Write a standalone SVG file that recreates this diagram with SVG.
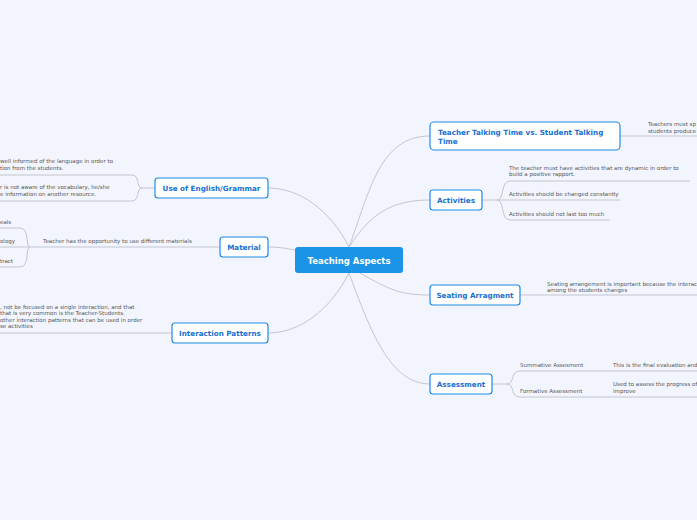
<svg xmlns="http://www.w3.org/2000/svg" width="697" height="520" viewBox="0 0 697 520">
<style>
.n rect{fill:#fff;stroke:#1f8ce6;stroke-width:1.2}
.n text{font-family:"DejaVu Sans",sans-serif;font-weight:bold;font-size:7.2px;fill:#1770d0}
.t{font-family:"DejaVu Sans",sans-serif;font-size:5.5px;fill:#555}
.c path{fill:none;stroke:#c4c6cf;stroke-width:1}
</style>
<rect width="697" height="520" fill="#f2f5fd"/>
<g class="c">
<path d="M349 247 C370 190,380 136,430 136"/>
<path d="M349 247 C370 215,390 200,430 200"/>
<path d="M360 273 C390 290,400 295,430 295"/>
<path d="M349 273 C370 330,390 384,430 384"/>
<path d="M349 247 C330 210,300 188,268 188"/>
<path d="M295 250 C285 248,278 247,268 247"/>
<path d="M349 273 C330 310,300 333,268 333"/>
<path d="M620 136 L697 136"/>
<path d="M482 200 L497 200 C505 200,500 181,510 181 L690 181"/>
<path d="M497 200 L620 200"/>
<path d="M497 200 C505 200,500 220,510 220 L610 220"/>
<path d="M520 295 L697 295"/>
<path d="M492 384 L507 384 C515 384,510 371,520 371 L697 371"/>
<path d="M507 384 C515 384,510 397,520 397 L697 397"/>
<path d="M155 188 L142 188 C136 188,140 175,132 175 L0 175"/>
<path d="M142 188 C136 188,140 201,132 201 L0 201"/>
<path d="M220 247 L30 247"/>
<path d="M30 247 C25 247,30 228,20 228 L0 228"/>
<path d="M30 247 L0 247"/>
<path d="M30 247 C25 247,30 267,20 267 L0 267"/>
<path d="M172 333 L0 333"/>
</g>
<g id="center"><rect x="295" y="247" width="108" height="26" rx="3" fill="#1b93e6"/><text x="349" y="263.5" text-anchor="middle" font-family="DejaVu Sans,sans-serif" font-weight="bold" font-size="8.5" fill="#fff">Teaching Aspects</text></g>
<g id="ttt" class="n"><rect x="430" y="122" width="190" height="28" rx="4"/><text x="438" y="134.5">Teacher Talking Time vs. Student Talking</text><text x="438" y="144">Time</text></g>
<g id="activities" class="n"><rect x="430" y="190" width="52" height="20" rx="3"/><text x="456" y="202.5" text-anchor="middle">Activities</text></g>
<g id="seating" class="n"><rect x="430" y="285" width="90" height="20" rx="3"/><text x="475" y="297.5" text-anchor="middle">Seating Arragment</text></g>
<g id="assessment" class="n"><rect x="430" y="374" width="62" height="20" rx="3"/><text x="461" y="386.5" text-anchor="middle">Assessment</text></g>
<g id="english" class="n"><rect x="155" y="178" width="113" height="20" rx="3"/><text x="211.5" y="190.5" text-anchor="middle">Use of English/Grammar</text></g>
<g id="material" class="n"><rect x="220" y="237" width="48" height="20" rx="3"/><text x="244" y="249.5" text-anchor="middle">Material</text></g>
<g id="interaction" class="n"><rect x="172" y="323" width="96" height="20" rx="3"/><text x="220" y="335.5" text-anchor="middle">Interaction Patterns</text></g>
<g id="texts">
<text class="t" x="648" y="126">Teachers must sp</text><text class="t" x="648" y="132.5">students produce</text>
<text class="t" x="509" y="169.5">The teacher must have activities that are dynamic in order to</text><text class="t" x="509" y="176">build a positive rapport.</text>
<text class="t" x="509" y="195.5">Activities should be changed constantly</text>
<text class="t" x="509" y="215.5">Activities should not last too much</text>
<text class="t" x="547" y="285.5">Seating arrangement is important because the interac</text><text class="t" x="547" y="292">among the students changes</text>
<text class="t" x="520" y="366.5">Summative Assesment</text>
<text class="t" x="613" y="366.5">This is the final evaluation and</text>
<text class="t" x="520" y="392.5">Formative Assessment</text>
<text class="t" x="613" y="386">Used to assess the progress of</text><text class="t" x="613" y="392.5">improve</text>
<text class="t" x="0" y="163">well informed of the language in order to</text><text class="t" x="0" y="169.5">tion from the students.</text>
<text class="t" x="0" y="189">r is not aware of the vocabulary, he/she</text><text class="t" x="0" y="195.5">e information on another resource.</text>
<text class="t" x="0" y="223.5">eals</text>
<text class="t" x="0" y="243">ology</text>
<text class="t" x="0" y="262.5">tract</text>
<text class="t" x="43" y="243">Teacher has the opportunity to use different materials</text>
<text class="t" x="0" y="308.5">, not be focused on a single interaction, and that</text>
<text class="t" x="0" y="315">that is very common is the Teacher-Students.</text>
<text class="t" x="0" y="321.5">other interaction patterns that can be used in order</text>
<text class="t" x="0" y="328">se activities</text>
</g>
</svg>
